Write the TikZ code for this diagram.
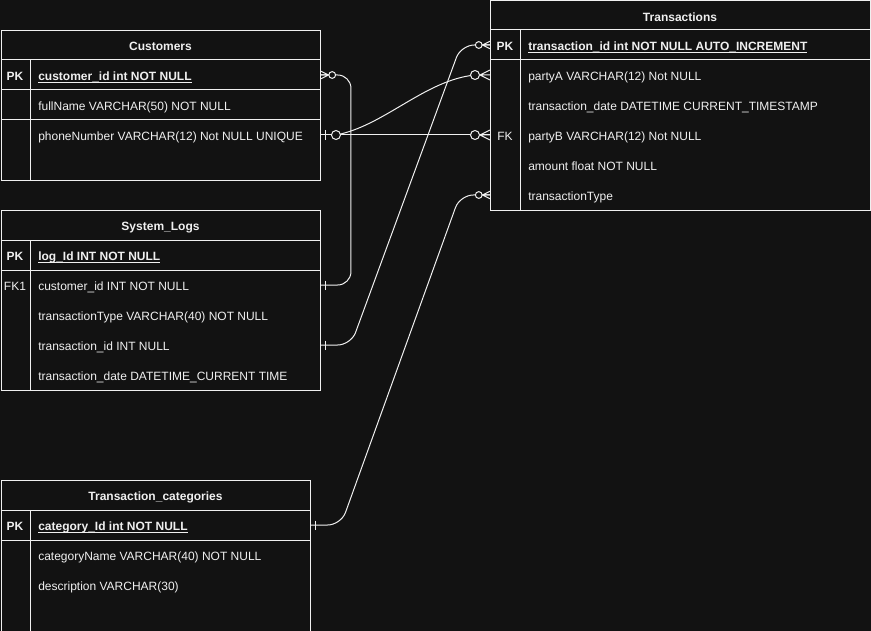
\documentclass[tikz,border=0pt]{standalone}
\usepackage{fontspec}
\setmainfont{Liberation Sans}
\usetikzlibrary{calc}

\definecolor{bg}{HTML}{121212}
\definecolor{fg}{HTML}{F0F0F0}

\newcommand{\sz}{\fontsize{9}{10.8}\selectfont}
% underlined primary key field
\newcommand{\pkul}[1]{\setbox0=\hbox{#1}\rlap{\rule[-1.6pt]{\wd0}{0.55pt}}\box0}

\tikzset{
  tbl/.style={draw=fg, fill=bg, line width=0.75pt, anchor=north west, inner sep=0pt},
  rowline/.style={draw=fg, line width=0.75pt},
  ttl/.style={text=fg, font=\sz\bfseries, text height=10.5pt, text depth=1.8pt},
  keycell/.style={text=fg, font=\sz, text height=10.5pt, text depth=1.8pt},
  fld/.style={text=fg, font=\sz, anchor=west, inner xsep=0pt, text height=10.5pt, text depth=1.8pt},
  conn/.style={draw=fg, line width=0.75pt, rounded corners=10},
  pics/zmany/.style={code={
    \draw[fg, line width=0.75pt] (0,-5) -- (10,0) -- (0,5) (0,0) -- (10,0);
    \draw[fg, fill=bg, line width=0.75pt] (15,0) circle (4.5);}},
  pics/zone/.style={code={
    \draw[fg, line width=0.75pt] (5,-5) -- (5,5) (0,0) -- (10,0);
    \draw[fg, fill=bg, line width=0.75pt] (15,0) circle (4.5);}},
  pics/one/.style={code={
    \draw[fg, line width=0.75pt] (4.5,-4.5) -- (4.5,4.5);}},
}

\begin{document}
\begin{tikzpicture}[x=0.75pt, y=-0.75pt]
  \useasboundingbox (0,0) rectangle (871,631);
  \fill[bg] (0,0) rectangle (871,631);
  \clip (0,0) rectangle (871,631);

  % Customers
  \node[tbl, minimum width=239.6pt, minimum height=112.5pt] (cust) at (0.5,30) {};
  \draw[rowline] (0.5,60) -- (320,60) (0.5,90) -- (320,90) (0.5,120) -- (320,120) (30,60) -- (30,180);
  \node[ttl] (cust-t) at (160.5,45) {Customers};
  \node[keycell, font=\sz\bfseries] (cust-pk) at (15,75) {PK};
  \node[fld, font=\sz\bfseries] (cust-id) at (38,75) {\pkul{customer\_id int NOT NULL}};
  \node[fld] (cust-fn) at (38,105) {fullName VARCHAR(50) NOT NULL};
  \node[fld] (cust-ph) at (38,135) {phoneNumber VARCHAR(12) Not NULL UNIQUE};

  % System_Logs
  \node[tbl, minimum width=239.6pt, minimum height=135pt] (slog) at (0.5,210) {};
  \draw[rowline] (0.5,240) -- (320,240) (0.5,270) -- (320,270) (30,240) -- (30,390);
  \node[ttl] (slog-t) at (160.5,225) {System\_Logs};
  \node[keycell, font=\sz\bfseries] (slog-pk) at (15,255) {PK};
  \node[fld, font=\sz\bfseries] (slog-id) at (38,255) {\pkul{log\_Id INT NOT NULL}};
  \node[keycell] (slog-fk) at (15,285) {FK1};
  \node[fld] (slog-cid) at (38,285) {customer\_id INT NOT NULL};
  \node[fld] (slog-ty) at (38,315) {transactionType VARCHAR(40) NOT NULL};
  \node[fld] (slog-tid) at (38,345) {transaction\_id INT NULL};
  \node[fld] (slog-dt) at (38,375) {transaction\_date DATETIME\_CURRENT TIME};

  % Transaction_categories
  \node[tbl, minimum width=232.1pt, minimum height=120pt] (cat) at (0.5,480) {};
  \draw[rowline] (0.5,510) -- (310,510) (0.5,540) -- (310,540) (30,510) -- (30,640);
  \node[ttl] (cat-t) at (155.5,495) {Transaction\_categories};
  \node[keycell, font=\sz\bfseries] (cat-pk) at (15,525) {PK};
  \node[fld, font=\sz\bfseries] (cat-id) at (38,525) {\pkul{category\_Id int NOT NULL}};
  \node[fld] (cat-nm) at (38,555) {categoryName VARCHAR(40) NOT NULL};
  \node[fld] (cat-ds) at (38,585) {description VARCHAR(30)};

  % Transactions
  \node[tbl, minimum width=285pt, minimum height=157.5pt] (tr) at (490,0.5) {};
  \draw[rowline] (490,30) -- (870,30) (490,60) -- (870,60) (520,30) -- (520,210.5);
  \node[ttl] (tr-t) at (680,15.5) {Transactions};
  \node[keycell, font=\sz\bfseries] (tr-pk) at (505,45) {PK};
  \node[fld, font=\sz\bfseries] (tr-id) at (528,45) {\pkul{transaction\_id int NOT NULL AUTO\_INCREMENT}};
  \node[fld] (tr-pa) at (528,75) {partyA VARCHAR(12) Not NULL};
  \node[fld] (tr-dt) at (528,105) {transaction\_date DATETIME CURRENT\_TIMESTAMP};
  \node[keycell] (tr-fk) at (505,135) {FK};
  \node[fld] (tr-pb) at (528,135) {partyB VARCHAR(12) Not NULL};
  \node[fld] (tr-am) at (528,165) {amount float NOT NULL};
  \node[fld] (tr-ty) at (528,195) {transactionType};

  % connectors
  \draw[conn] (cust-id -| cust.east) -- ++(30,0) |- (slog-cid -| slog.east);
  \draw[conn] (cust-ph -| cust.east) -- (tr-pb -| tr.west);
  \draw[conn] ($(cust-ph -| cust.east)+(15,0)$) .. controls +(48,-9) and +(-50,5) .. ($(tr-pa -| tr.west)+(-15,0)$);
  \draw[conn] (slog-tid -| slog.east) -- ++(30,0) -- ($(tr-id -| tr.west)+(-29,0)$) -- (tr-id -| tr.west);
  \draw[conn] (cat-id -| cat.east) -- ++(30,0) -- ($(tr-ty -| tr.west)+(-30,0)$) -- (tr-ty -| tr.west);

  % end marks
  \pic[scale=0.75] at (cust-id -| cust.east) {zmany};
  \pic at (cust-ph -| cust.east) {zone};
  \pic at (slog-cid -| slog.east) {one};
  \pic at (slog-tid -| slog.east) {one};
  \pic at (cat-id -| cat.east) {one};
  \pic[rotate=180, scale=0.75] at (tr-id -| tr.west) {zmany};
  \pic[rotate=180] at (tr-pa -| tr.west) {zmany};
  \pic[rotate=180] at (tr-pb -| tr.west) {zmany};
  \pic[rotate=180, scale=0.75] at (tr-ty -| tr.west) {zmany};
\end{tikzpicture}
\end{document}
